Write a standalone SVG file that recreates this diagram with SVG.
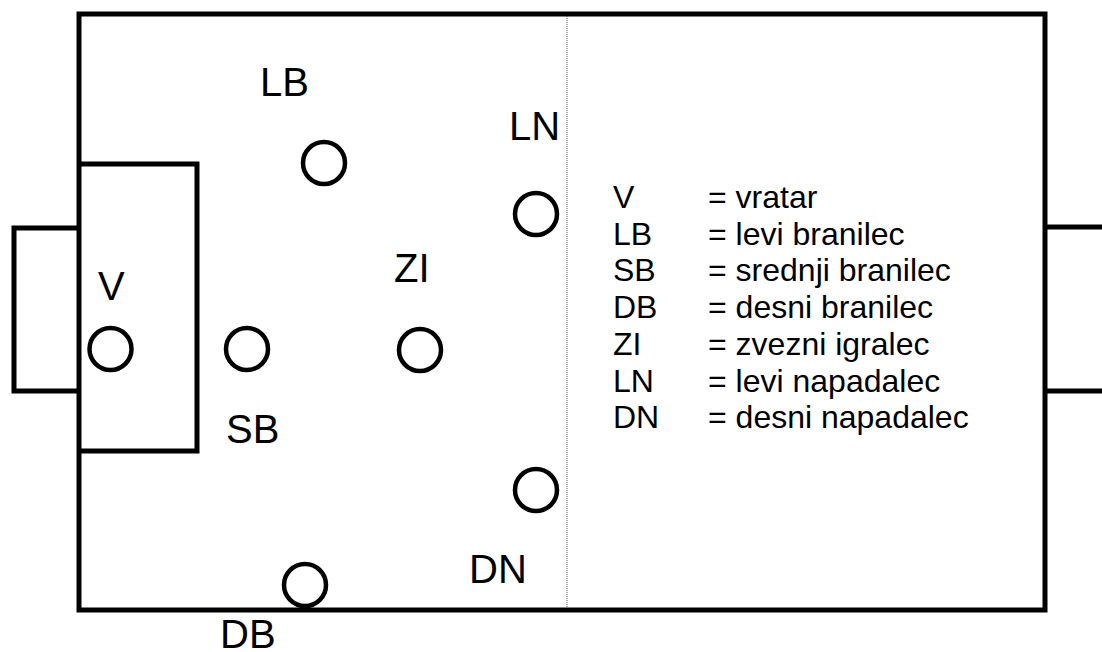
<svg xmlns="http://www.w3.org/2000/svg" width="1102" height="652" viewBox="0 0 1102 652">
<style>
.ln{fill:none;stroke:#000;stroke-width:5;stroke-linejoin:miter}
.pl{fill:none;stroke:#000;stroke-width:4.5}
.lbl{font-family:"Liberation Sans",Arial,sans-serif;font-size:40px;fill:#000}
.leg{font-family:"Liberation Sans",Arial,sans-serif;font-size:32px;fill:#000}
</style>
<rect width="1102" height="652" fill="#fff"/>
<g id="pitch">
<rect class="ln" x="79" y="14" width="966" height="596"/>
<polyline class="ln" points="79,164 197,164 197,451 79,451"/>
<polyline class="ln" points="79,228 14,228 14,391 79,391"/>
<line class="ln" x1="1045" y1="227" x2="1102" y2="227"/>
<line class="ln" x1="1045" y1="391" x2="1102" y2="391"/>
<line x1="567" y1="16" x2="567" y2="608" stroke="#555" stroke-width="1" stroke-dasharray="1,1"/>
</g>
<g id="connectors"></g>
<g id="V"><circle class="pl" cx="110.5" cy="349" r="21"/><text class="lbl" x="98" y="300">V</text></g>
<g id="SB"><circle class="pl" cx="247" cy="349" r="21"/><text class="lbl" x="226" y="443">SB</text></g>
<g id="ZI"><circle class="pl" cx="420" cy="350" r="21"/><text class="lbl" x="394" y="282">ZI</text></g>
<g id="LB"><circle class="pl" cx="324" cy="163" r="21"/><text class="lbl" x="260" y="96">LB</text></g>
<g id="LN"><circle class="pl" cx="536" cy="214" r="21"/><text class="lbl" x="509" y="140">LN</text></g>
<g id="DN"><circle class="pl" cx="536" cy="490" r="21"/><text class="lbl" x="469" y="583">DN</text></g>
<g id="DB"><circle class="pl" cx="305" cy="585" r="21"/><text class="lbl" x="220" y="648">DB</text></g>
<g id="legend">
<text class="leg" x="613" y="208">V</text><text class="leg" x="708" y="208">= vratar</text>
<text class="leg" x="613" y="244.7">LB</text><text class="leg" x="708" y="244.7">= levi branilec</text>
<text class="leg" x="613" y="281.4">SB</text><text class="leg" x="708" y="281.4">= srednji branilec</text>
<text class="leg" x="613" y="318.1">DB</text><text class="leg" x="708" y="318.1">= desni branilec</text>
<text class="leg" x="613" y="354.8">ZI</text><text class="leg" x="708" y="354.8">= zvezni igralec</text>
<text class="leg" x="613" y="391.5">LN</text><text class="leg" x="708" y="391.5">= levi napadalec</text>
<text class="leg" x="613" y="428.2">DN</text><text class="leg" x="708" y="428.2">= desni napadalec</text>
</g>
</svg>
